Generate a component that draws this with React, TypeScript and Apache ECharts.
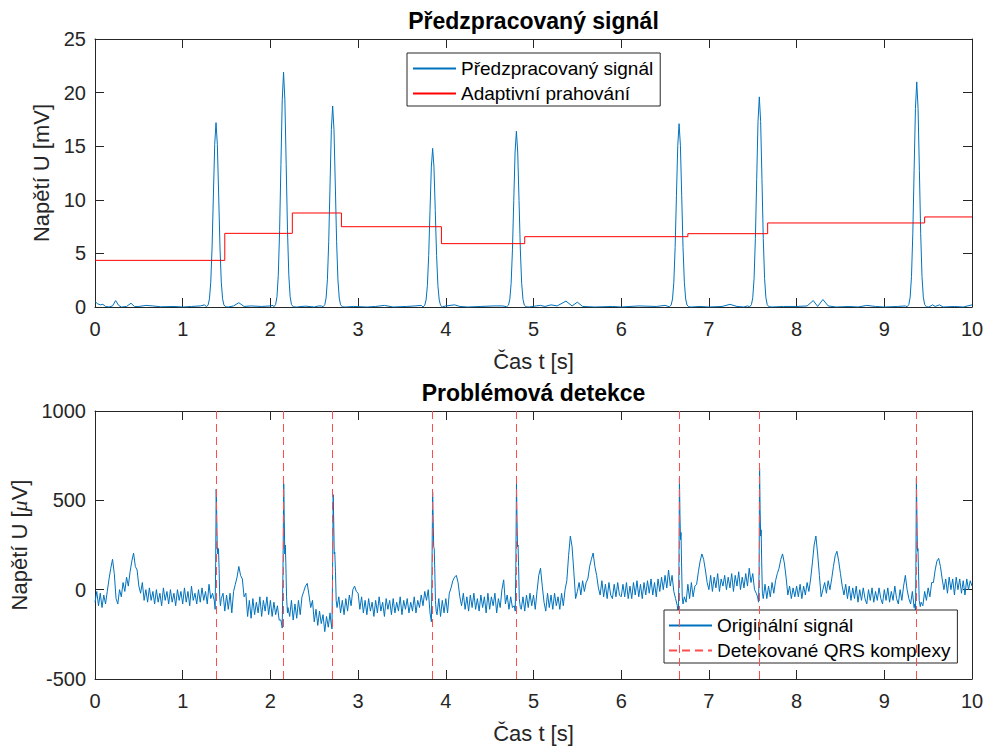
import React, { useEffect, useRef } from "react";
import * as echarts from "echarts";

// ---------- DATA ----------
const xTicks = [0, 1, 2, 3, 4, 5, 6, 7, 8, 9, 10];
const topYTicks = [0, 5, 10, 15, 20, 25];
const botYTicks = [-500, 0, 500, 1000];

const legendTop = ["Předzpracovaný signál", "Adaptivní prahování"];
const legendBot = ["Originální signál", "Detekované QRS komplexy"];

// preprocessed signal: low baseline wiggles [t, mV]
const prepBaseline = [
  [0, 0.5], [0.03, 0.3], [0.06, 0.2], [0.09, 0.25], [0.12, 0.05], [0.16, 0.0], [0.2, 0.1], [0.235, 0.6], [0.27, 0.15], [0.3, 0.0],
  [0.36, 0.05], [0.41, 0.35], [0.45, 0.05], [0.5, 0.05], [0.58, 0.15], [0.66, 0.1], [0.75, 0.02], [0.9, 0.05], [1.0, 0.0], [1.1, 0.05],
  [1.2, 0.1], [1.25, 0.2],
  [1.52, 0.0], [1.58, 0.1], [1.64, 0.4], [1.7, 0.05], [1.78, 0.1], [1.9, 0.05], [2.0, 0.1], [2.03, 0.15],
  [2.3, 0.0], [2.4, 0.08], [2.5, 0.0], [2.55, 0.1], [2.58, 0.1],
  [2.86, 0.0], [2.95, 0.05], [3.1, 0.0], [3.2, 0.05], [3.3, 0.15], [3.4, 0.0], [3.55, 0.05], [3.65, 0.1], [3.72, 0.15],
  [4.0, 0.1], [4.1, 0.2], [4.16, 0.05], [4.25, 0.0], [4.4, 0.05], [4.55, 0.1], [4.65, 0.1],
  [4.95, 0.0], [5.03, 0.1], [5.08, 0.15], [5.13, 0.05], [5.2, 0.2], [5.27, 0.1], [5.37, 0.55], [5.44, 0.1], [5.5, 0.45], [5.56, 0.05],
  [5.7, 0.0], [5.9, 0.05], [6.0, 0.0], [6.2, 0.1], [6.4, 0.05], [6.5, 0.15],
  [6.8, 0.0], [6.9, 0.05], [7.0, 0.0], [7.15, 0.05], [7.24, 0.25], [7.32, 0.05], [7.4, 0.0], [7.44, 0.1],
  [7.72, 0.0], [7.85, 0.05], [8.0, 0.05], [8.12, 0.1], [8.19, 0.6], [8.24, 0.05], [8.3, 0.7], [8.36, 0.1], [8.45, 0.0], [8.6, 0.05],
  [8.7, 0.0], [8.8, 0.15], [8.9, 0.05], [9.0, 0.0], [9.15, 0.05], [9.24, 0.1],
  [9.51, 0.0], [9.55, 0.2], [9.58, 0.05], [9.63, 0.2], [9.67, 0.0], [9.8, 0.05], [9.9, 0.0], [10, 0.2],
];

// preprocessed signal: the eight peaks [t, mV]
const prepPeak1 = [[1.27, 0.02], [1.29, 0.19], [1.305, 0.76], [1.32, 2.32], [1.335, 5.59], [1.35, 10.44], [1.365, 15.17], [1.38, 17.2], [1.395, 15.17], [1.41, 10.44], [1.425, 5.59], [1.44, 2.32], [1.455, 0.76], [1.47, 0.19], [1.49, 0.02]];
const prepPeak2 = [[2.04, 0.02], [2.06, 0.24], [2.075, 0.96], [2.09, 2.96], [2.105, 7.12], [2.12, 13.29], [2.135, 19.32], [2.15, 21.9], [2.165, 19.32], [2.18, 13.29], [2.195, 7.12], [2.21, 2.96], [2.225, 0.96], [2.24, 0.24], [2.26, 0.02]];
const prepPeak3 = [[2.6, 0.02], [2.62, 0.21], [2.635, 0.83], [2.65, 2.53], [2.665, 6.09], [2.68, 11.38], [2.695, 16.54], [2.71, 18.75], [2.725, 16.54], [2.74, 11.38], [2.755, 6.09], [2.77, 2.53], [2.785, 0.83], [2.8, 0.21], [2.82, 0.02]];
const prepPeak4 = [[3.74, 0.01], [3.76, 0.16], [3.775, 0.65], [3.79, 2.0], [3.805, 4.81], [3.82, 8.98], [3.835, 13.05], [3.85, 14.8], [3.865, 13.05], [3.88, 8.98], [3.895, 4.81], [3.91, 2.0], [3.925, 0.65], [3.94, 0.16], [3.96, 0.01]];
const prepPeak5 = [[4.695, 0.02], [4.715, 0.18], [4.73, 0.72], [4.745, 2.21], [4.76, 5.33], [4.775, 9.95], [4.79, 14.46], [4.805, 16.4], [4.82, 14.46], [4.835, 9.95], [4.85, 5.33], [4.865, 2.21], [4.88, 0.72], [4.895, 0.18], [4.915, 0.02]];
const prepPeak6 = [[6.55, 0.02], [6.57, 0.19], [6.585, 0.75], [6.6, 2.31], [6.615, 5.56], [6.63, 10.38], [6.645, 15.08], [6.66, 17.1], [6.675, 15.08], [6.69, 10.38], [6.705, 5.56], [6.72, 2.31], [6.735, 0.75], [6.75, 0.19], [6.77, 0.02]];
const prepPeak7 = [[7.465, 0.02], [7.485, 0.22], [7.5, 0.86], [7.515, 2.65], [7.53, 6.37], [7.545, 11.9], [7.56, 17.29], [7.575, 19.6], [7.59, 17.29], [7.605, 11.9], [7.62, 6.37], [7.635, 2.65], [7.65, 0.86], [7.665, 0.22], [7.685, 0.02]];
const prepPeak8 = [[9.26, 0.02], [9.28, 0.23], [9.295, 0.92], [9.31, 2.84], [9.325, 6.83], [9.34, 12.75], [9.355, 18.52], [9.37, 21.0], [9.385, 18.52], [9.4, 12.75], [9.415, 6.83], [9.43, 2.84], [9.445, 0.92], [9.46, 0.23], [9.48, 0.02]];

// adaptive threshold: [time of change, new level mV]
const thresholdSteps = [[0, 4.35], [1.48, 6.87], [2.25, 8.77], [2.81, 7.49], [3.95, 5.91], [4.9, 6.56], [6.76, 6.84], [7.67, 7.84], [9.46, 8.4], [10, 8.4]];

// original ECG (µV), sampled every 0.02 s, one array per second
const ecgStep = 0.02;
const ecg0 = [-70, -10, -90, -20, -100, -30, -80, -10, 60, 120, 170, 90, -50, -80, 0, -40, 40, -10, 70, 20, 100, 160, 205, 130, 110, 20, -20, 40, -60, 0, -70, 10, -60, -10, -80, 0, -70, -20, -90, 10, -60, -10, -80, 0, -70, -20, -90, 0, -60, -10];
const ecg1 = [-80, 10, -70, -10, -90, 20, -60, -20, -80, 0, -70, 10, -60, -10, -80, 30, -50, -20, -90, 0, 0, 0, -60, -20, -120, -30, -110, -20, -130, -10, 30, 70, 130, 80, 60, -40, -20, -150, -60, -160, -50, -140, -70, -130, -40, -150, -60, -120, -40, -140];
const ecg2 = [-60, -150, -70, -140, -90, -170, -220, 0, 0, 0, 0, -150, -60, -170, -80, -160, -60, -140, -40, -10, 20, 35, -30, -100, -60, -180, -110, -200, -120, -190, -140, -235, -150, -210, -130, -220, 0, 0, 0, -40, -130, -60, -140, -50, -120, -30, -90, 0, 20, -10];
const ecg3 = [-20, -110, -40, -130, -60, -140, -50, -120, -70, -150, -60, -130, -40, -120, -70, -150, -50, -110, -60, -140, -50, -130, -70, -120, -40, -140, -60, -110, -50, -130, -70, -120, -40, -130, -60, -100, -30, -90, -10, -60, 0, -170, 0, 0, 0, -140, -50, -150, -60, -130];
const ecg4 = [-50, -130, -20, 10, 50, 70, 80, 40, -40, -90, -20, -110, -40, -120, -30, -100, -20, -110, -50, -120, -30, -100, -40, -130, -20, -110, -40, -90, -20, -130, -50, -100, 0, 55, -80, -30, -110, -40, -100, -120, 0, 0, 0, -110, -40, -120, -30, -100, -20, -90];
const ecg5 = [-30, -110, -10, 80, 120, 20, -70, -120, -20, -100, -30, -110, -20, -90, -40, -110, -20, -90, 0, 50, 190, 300, 240, 100, -50, -10, 40, -30, 50, -10, 40, 60, 130, 170, 205, 130, 80, 10, -30, 50, -40, 30, -50, 40, -30, -50, 30, -40, 40, -30];
const ecg6 = [-40, 30, -40, 40, -50, 20, -50, 40, -30, 50, -40, 30, -50, 40, -30, 50, -20, 60, -30, 40, -40, 60, -10, 70, 0, 80, 10, 110, 20, 80, -10, -50, -120, 0, 0, 0, -40, -70, 30, -50, 40, -40, 20, 30, 100, 160, 200, 170, 110, 40];
const ecg7 = [0, 80, -10, 70, 10, 90, -10, 60, 20, 80, 0, 70, 10, 90, -10, 80, 20, 100, 0, 70, 10, 90, 20, 120, 40, 90, 0, -20, -40, 0, 0, -40, 30, -50, 20, -40, 40, -20, 50, 90, 120, 170, 200, 150, 70, -30, 20, -50, 10, -40];
const ecg8 = [20, -40, 30, -50, 20, -30, 40, -10, 60, 150, 250, 300, 200, 80, -40, 0, 40, -20, 50, 0, 60, 130, 190, 215, 160, 90, 20, -30, 30, -50, 20, -60, 10, -50, 20, -70, 0, -60, 10, -50, -80, 0, -60, 10, -70, -10, -60, 10, -50, -80];
const ecg9 = [0, -60, 10, -70, -10, -60, 20, -50, -80, 0, -60, 20, 80, 0, -50, -80, -10, -100, 0, 0, 0, 0, -90, -10, -60, 10, -40, 40, 40, 110, 160, 175, 130, 60, 0, 60, -20, 70, 0, 60, -30, 70, 0, 60, -20, 50, -30, 60, 0, 50, 20];

// QRS complexes in the original ECG [t, µV]
const qrs1 = [[1.36, -60], [1.37, -110], [1.376, 150], [1.382, 563], [1.388, 420], [1.394, 240], [1.4, 200], [1.408, 230], [1.415, 120], [1.422, -40], [1.43, -90], [1.44, -50]];
const qrs2 = [[2.12, -170], [2.135, -215], [2.143, 100], [2.152, 593], [2.158, 400], [2.164, 200], [2.17, 250], [2.176, 150], [2.184, -40], [2.195, -130], [2.2, -100]];
const qrs3 = [[2.69, -180], [2.702, -220], [2.708, 50], [2.716, 532], [2.722, 380], [2.728, 200], [2.734, 210], [2.742, 100], [2.75, -60], [2.76, -100]];
const qrs4 = [[3.82, -130], [3.836, -180], [3.842, 100], [3.85, 547], [3.856, 400], [3.862, 240], [3.868, 230], [3.874, 120], [3.882, -60], [3.89, -120]];
const qrs5 = [[4.78, -90], [4.792, -120], [4.798, 100], [4.806, 597], [4.812, 400], [4.818, 240], [4.824, 250], [4.83, 130], [4.838, -50], [4.85, -100]];
const qrs6 = [[6.64, -90], [6.652, -150], [6.658, 100], [6.664, 625], [6.67, 420], [6.676, 280], [6.682, 320], [6.688, 150], [6.696, -40], [6.705, -80]];
const qrs7 = [[7.555, -40], [7.566, -70], [7.572, 100], [7.578, 681], [7.584, 450], [7.59, 300], [7.596, 335], [7.602, 150], [7.61, -20], [7.62, -50]];
const qrs8 = [[9.345, -80], [9.356, -120], [9.36, 100], [9.366, 625], [9.372, 420], [9.378, 215], [9.384, 230], [9.39, 100], [9.398, -60], [9.41, -95], [9.42, -70]];

// detected QRS positions (s)
const detectedQrs = [1.38, 2.152, 2.714, 3.847, 4.8, 6.66, 7.57, 9.366];

// ---------- BUILD ----------
const prepPeaks = [prepPeak1, prepPeak2, prepPeak3, prepPeak4, prepPeak5, prepPeak6, prepPeak7, prepPeak8];
const prepData = [...prepBaseline, ...prepPeaks.flat()].sort((a, b) => a[0] - b[0]);

const ecgSeconds = [ecg0, ecg1, ecg2, ecg3, ecg4, ecg5, ecg6, ecg7, ecg8, ecg9];
const ecgFlat = ecgSeconds.flat();
const qrsList = [qrs1, qrs2, qrs3, qrs4, qrs5, qrs6, qrs7, qrs8];
const ecgBase = ecgFlat
  .map((v, i) => [Math.round(i * ecgStep * 1000) / 1000, v])
  .filter(([t]) => !qrsList.some((q) => t >= q[0][0] - 0.001 && t <= q[q.length - 1][0] + 0.001));
const ecgData = [...ecgBase, ...qrsList.flat()].sort((a, b) => a[0] - b[0]);

const FONT = "'Liberation Sans', Arial, Helvetica, sans-serif";
const TXT = "#262626";
const BLUE = "#0072BD";
const RED = "#FF0000";
const QRS_RED = "#FF4D4D";

const L = 95, W = 877, H = 268, T1 = 39, T2 = 411;

function xAxes(gridIndex: number) {
  const common = {
    type: "value", gridIndex, min: xTicks[0], max: xTicks[xTicks.length - 1], interval: 1,
    splitLine: { show: false },
    axisLine: { show: true, onZero: false, lineStyle: { color: TXT, width: 1 } },
    axisTick: { show: true, inside: true, length: 9, lineStyle: { color: TXT, width: 1 } },
  };
  return [
    {
      ...common, position: "bottom",
      axisLabel: { show: true, color: TXT, fontSize: 20, fontFamily: FONT, margin: 12 },
      name: "Čas t [s]", nameLocation: "middle", nameGap: 43,
      nameTextStyle: { color: TXT, fontSize: 22, fontFamily: FONT },
    },
    { ...common, position: "top", axisLabel: { show: false } },
  ];
}

function yAxes(gridIndex: number, min: number, max: number, interval: number, name: string, nameGap: number, rich?: any) {
  const common = {
    type: "value", gridIndex, min, max, interval,
    splitLine: { show: false },
    axisLine: { show: true, onZero: false, lineStyle: { color: TXT, width: 1 } },
    axisTick: { show: true, inside: true, length: 9, lineStyle: { color: TXT, width: 1 } },
  };
  return [
    {
      ...common, position: "left",
      axisLabel: { show: true, color: TXT, fontSize: 20, fontFamily: FONT, margin: 9, formatter: (v: number) => String(v) },
      name, nameLocation: "middle", nameGap,
      nameTextStyle: { color: TXT, fontSize: 22, fontFamily: FONT, rich },
    },
    { ...common, position: "right", axisLabel: { show: false } },
  ];
}

const legendCommon = {
  orient: "vertical", itemWidth: 43, itemHeight: 20, itemGap: 6,
  backgroundColor: "#fff", borderColor: TXT, borderWidth: 1, borderRadius: 0,
  textStyle: { color: "#000", fontSize: 19, fontFamily: FONT },
  itemStyle: { opacity: 0 },
  selectedMode: false,
};

const option: any = {
  animation: false,
  grid: [
    { left: L, top: T1, width: W, height: H, containLabel: false },
    { left: L, top: T2, width: W, height: H, containLabel: false },
  ],
  xAxis: [...xAxes(0), ...xAxes(1)],
  yAxis: [
    ...yAxes(0, topYTicks[0], topYTicks[topYTicks.length - 1], 5, "Napětí U [mV]", 34),
    ...yAxes(1, botYTicks[0], botYTicks[botYTicks.length - 1], 500, "Napětí U [{mu|μ}V]", 60, {
      mu: { fontStyle: "italic", fontFamily: "'Liberation Serif', 'DejaVu Serif', serif", fontSize: 22, color: TXT },
    }),
  ],
  legend: [
    { ...legendCommon, data: legendTop, left: 407, top: 53, padding: [6, 7, 3, 5] },
    { ...legendCommon, data: legendBot, left: 664, top: 610, padding: [6, 7, 3, 4] },
  ],
  graphic: [
    {
      type: "text", x: L + W / 2, y: 21,
      style: { text: "Předzpracovaný signál", fill: "#000", font: `bold 23px ${FONT}`, align: "center", verticalAlign: "middle", textAlign: "center", textVerticalAlign: "middle" },
    },
    {
      type: "text", x: L + W / 2, y: 393,
      style: { text: "Problémová detekce", fill: "#000", font: `bold 23px ${FONT}`, align: "center", verticalAlign: "middle", textAlign: "center", textVerticalAlign: "middle" },
    },
  ],
  series: [
    {
      name: legendTop[0], type: "line", xAxisIndex: 0, yAxisIndex: 0, data: prepData,
      symbol: "none", showSymbol: false, lineStyle: { color: BLUE, width: 1 }, itemStyle: { color: BLUE }, silent: true,
    },
    {
      name: legendTop[1], type: "line", xAxisIndex: 0, yAxisIndex: 0, data: thresholdSteps, step: "end",
      symbol: "none", showSymbol: false, lineStyle: { color: RED, width: 1 }, itemStyle: { color: RED }, silent: true,
    },
    {
      name: legendBot[0], type: "line", xAxisIndex: 2, yAxisIndex: 2, data: ecgData,
      symbol: "none", showSymbol: false, lineStyle: { color: BLUE, width: 1 }, itemStyle: { color: BLUE }, silent: true,
    },
    {
      name: legendBot[1], type: "line", xAxisIndex: 2, yAxisIndex: 2, data: [],
      symbol: "none", showSymbol: false, lineStyle: { color: QRS_RED, width: 1, type: [8, 5] }, itemStyle: { color: QRS_RED },
      silent: true,
      markLine: {
        silent: true, symbol: ["none", "none"], label: { show: false },
        lineStyle: { color: QRS_RED, width: 1, type: [8, 5] },
        emphasis: { disabled: true },
        data: detectedQrs.map((t) => ({ xAxis: t })),
      },
    },
  ],
};

export default function App() {
  const ref = useRef<HTMLDivElement>(null);
  useEffect(() => {
    document.body.style.margin = "0";
    const chart = echarts.init(ref.current!, null, { renderer: "svg" });
    chart.setOption(option);
    return () => chart.dispose();
  }, []);
  return <div ref={ref} style={{ width: 989, height: 749 }} />;
}
